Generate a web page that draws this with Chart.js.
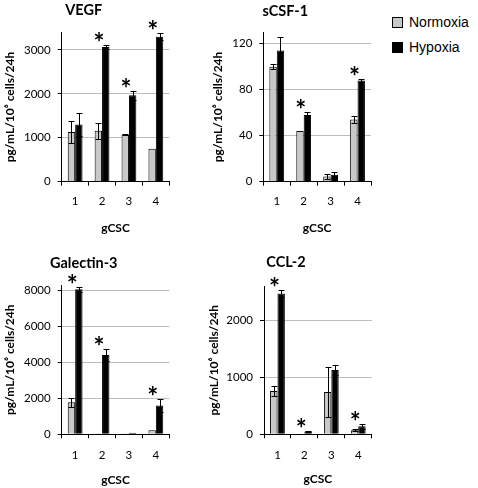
<!DOCTYPE html>
<html>
<head>
<meta charset="utf-8">
<script src="https://cdn.jsdelivr.net/npm/chart.js@4.4.0/dist/chart.umd.min.js"></script>
<style>
  body { margin: 0; background: #fff; }
  #page { position: relative; width: 478px; height: 488px; overflow: hidden; }
  canvas { position: absolute; }
  #legend { position: absolute; left: 392px; top: 0; font-family: "Liberation Sans", Arial, sans-serif; font-size: 14px; line-height: 14px; color: #000; }
  .item { position: absolute; left: 0; white-space: nowrap; }
  .key { position: absolute; left: 0; width: 9px; height: 9px; border: 1px solid #000; }
  .lbl { position: absolute; left: 17px; top: -2px; }
</style>
</head>
<body>
<div id="page">
  <canvas id="c_vegf" width="178" height="240" style="left:0px;top:0px"></canvas>
  <canvas id="c_csf" width="178" height="240" style="left:208px;top:0px"></canvas>
  <canvas id="c_gal" width="178" height="248" style="left:0px;top:240px"></canvas>
  <canvas id="c_ccl" width="178" height="248" style="left:204px;top:240px"></canvas>
  <div id="legend"></div>
</div>
<script>
// gCSC lines
const categories = ['1', '2', '3', '4'];
const seriesNames = ['Normoxia', 'Hypoxia'];

// VEGF
const vegfNorm = [1130, 1160, 1070, 750];
const vegfNormErr = [255, 180, 15, 0];
const vegfHyp = [1300, 3070, 1970, 3300];
const vegfHypErr = [260, 50, 100, 80];
const vegfStars = [false, true, true, true];
const vegfTicks = [0, 1000, 2000, 3000];

// sCSF-1
const csfNorm = [100, 44, 4.5, 54];
const csfNormErr = [2, 0, 2.5, 3];
const csfHyp = [114, 58, 6, 88];
const csfHypErr = [12, 3, 2.5, 1];
const csfStars = [false, true, false, true];
const csfTicks = [0, 40, 80, 120];

// Galectin-3
const galNorm = [1790, 40, 20, 230];
const galNormErr = [255, 0, 0, 0];
const galHyp = [8080, 4420, 80, 1600];
const galHypErr = [150, 310, 0, 355];
const galStars = [true, true, false, true];
const galTicks = [0, 2000, 4000, 6000, 8000];

// CCL-2
const cclNorm = [760, 10, 740, 70];
const cclNormErr = [80, 0, 440, 20];
const cclHyp = [2470, 50, 1130, 140];
const cclHypErr = [70, 10, 90, 45];
const cclStars = [true, true, false, true];
const cclTicks = [0, 1000, 2000];

const COLORS = ['#c8c8c8', '#000000'];
const FONT = 'Lato, "DejaVu Sans", sans-serif';

// error bars, asterisks and panel title
const extras = {
  id: 'extras',
  afterDatasetsDraw(chart, args, opts) {
    const ctx = chart.ctx;
    const y = chart.scales.y;
    const errs = [opts.normErr, opts.hypErr];
    ctx.save();
    ctx.strokeStyle = '#000';
    ctx.lineWidth = 1;
    errs.forEach((list, di) => {
      const meta = chart.getDatasetMeta(di);
      meta.data.forEach((bar, i) => {
        const e = list[i];
        if (!e) return;
        const v = chart.data.datasets[di].data[i];
        const x = Math.round(bar.x) + 0.5;
        const top = Math.round(y.getPixelForValue(v + e)) + 0.5;
        const bot = Math.round(y.getPixelForValue(Math.max(v - e, 0))) + 0.5;
        ctx.beginPath();
        ctx.moveTo(x, top); ctx.lineTo(x, bot);
        ctx.moveTo(x - 3, top); ctx.lineTo(x + 3, top);
        ctx.moveTo(x - 3, bot); ctx.lineTo(x + 3, bot);
        ctx.stroke();
      });
    });

    ctx.fillStyle = '#000';
    ctx.textAlign = 'center';
    ctx.textBaseline = 'alphabetic';
    ctx.font = 'bold 26px ' + FONT;
    const m = ctx.measureText('*');
    opts.stars.forEach((s, i) => {
      if (!s) return;
      let hi = 0;
      chart.data.datasets.forEach((ds, di) => {
        hi = Math.max(hi, ds.data[i] + (errs[di][i] || 0));
      });
      const x = chart.scales.x.getPixelForValue(i) - 3;
      const yb = y.getPixelForValue(hi) - 3;
      ctx.fillText('*', x, yb - m.actualBoundingBoxDescent);
    });

    ctx.font = 'bold 14.5px ' + FONT;
    ctx.textBaseline = 'middle';
    ctx.fillText(opts.title, chart.chartArea.left + 22, opts.titleY);
    ctx.restore();
  }
};

function makePanel(canvasId, p) {
  const tickFont = { family: FONT, size: 11.5 };
  const titleFont = { family: FONT, size: 12, weight: 'bold' };
  return new Chart(document.getElementById(canvasId), {
    type: 'bar',
    data: {
      labels: categories,
      datasets: [
        { label: seriesNames[0], data: p.norm, backgroundColor: COLORS[0], borderColor: '#000', borderWidth: 1,
          barPercentage: 1, categoryPercentage: 0.55 },
        { label: seriesNames[1], data: p.hyp, backgroundColor: COLORS[1], borderColor: '#000', borderWidth: 1,
          barPercentage: 1, categoryPercentage: 0.55 }
      ]
    },
    options: {
      responsive: false,
      animation: false,
      layout: { padding: { top: p.padTop, right: p.padRight, left: 0, bottom: 0 } },
      plugins: {
        legend: { display: false },
        tooltip: { enabled: false },
        extras: { normErr: p.normErr, hypErr: p.hypErr, stars: p.stars, title: p.title, titleY: p.titleY }
      },
      scales: {
        x: {
          grid: { drawOnChartArea: false, offset: true, tickLength: 4, tickColor: '#000' },
          border: { color: '#000' },
          ticks: { font: tickFont, color: '#000', padding: p.xTickPad },
          title: { display: true, text: 'gCSC', font: titleFont, color: '#000', padding: { top: 0, bottom: p.xTitlePad } },
          afterFit: s => { s.height = p.xHeight; }
        },
        y: {
          min: 0,
          max: p.max,
          afterBuildTicks: s => { s.ticks = p.ticks.map(v => ({ value: v })); },
          ticks: { font: tickFont, color: '#000', padding: 7, callback: v => String(v) },
          grid: {
            color: c => (c.tick && c.tick.value === 0) ? '#000' : '#bdbdbd',
            tickColor: '#000',
            tickLength: 4
          },
          border: { color: '#000' },
          title: { display: true, text: 'pg/mL/10⁶ cells/24h', font: titleFont, color: '#000', padding: { top: 3, bottom: 0 } },
          afterFit: s => { s.width = p.yWidth; }
        }
      }
    },
    plugins: [extras]
  });
}

makePanel('c_vegf', {
  title: 'VEGF', titleY: 10, norm: vegfNorm, normErr: vegfNormErr, hyp: vegfHyp, hypErr: vegfHypErr, stars: vegfStars,
  ticks: vegfTicks, max: 3400, padTop: 32.4, padRight: 8.7, yWidth: 61.7, xHeight: 58.3, xTickPad: 9, xTitlePad: 4.8
});
makePanel('c_csf', {
  title: 'sCSF-1', titleY: 11, norm: csfNorm, normErr: csfNormErr, hyp: csfHyp, hypErr: csfHypErr, stars: csfStars,
  ticks: csfTicks, max: 130, padTop: 32.2, padRight: 15, yWidth: 55.3, xHeight: 58.3, xTickPad: 9, xTitlePad: 4.8
});
makePanel('c_gal', {
  title: 'Galectin-3', titleY: 23.5, norm: galNorm, normErr: galNormErr, hyp: galHyp, hypErr: galHypErr, stars: galStars,
  ticks: galTicks, max: 8300, padTop: 45.3, padRight: 8.7, yWidth: 61.7, xHeight: 53.7, xTickPad: 10.5, xTitlePad: 1
});
makePanel('c_ccl', {
  title: 'CCL-2', titleY: 22.5, norm: cclNorm, normErr: cclNormErr, hyp: cclHyp, hypErr: cclHypErr, stars: cclStars,
  ticks: cclTicks, max: 2600, padTop: 46.1, padRight: 10.3, yWidth: 60, xHeight: 53.7, xTickPad: 10, xTitlePad: 2
});

// legend
const legend = document.getElementById('legend');
seriesNames.forEach((name, i) => {
  const item = document.createElement('div');
  item.className = 'item';
  item.style.top = (17 + i * 25) + 'px';
  item.innerHTML = `<div class="key" style="background:${COLORS[i]}"></div><div class="lbl">${name}</div>`;
  legend.appendChild(item);
});
</script>
</body>
</html>
